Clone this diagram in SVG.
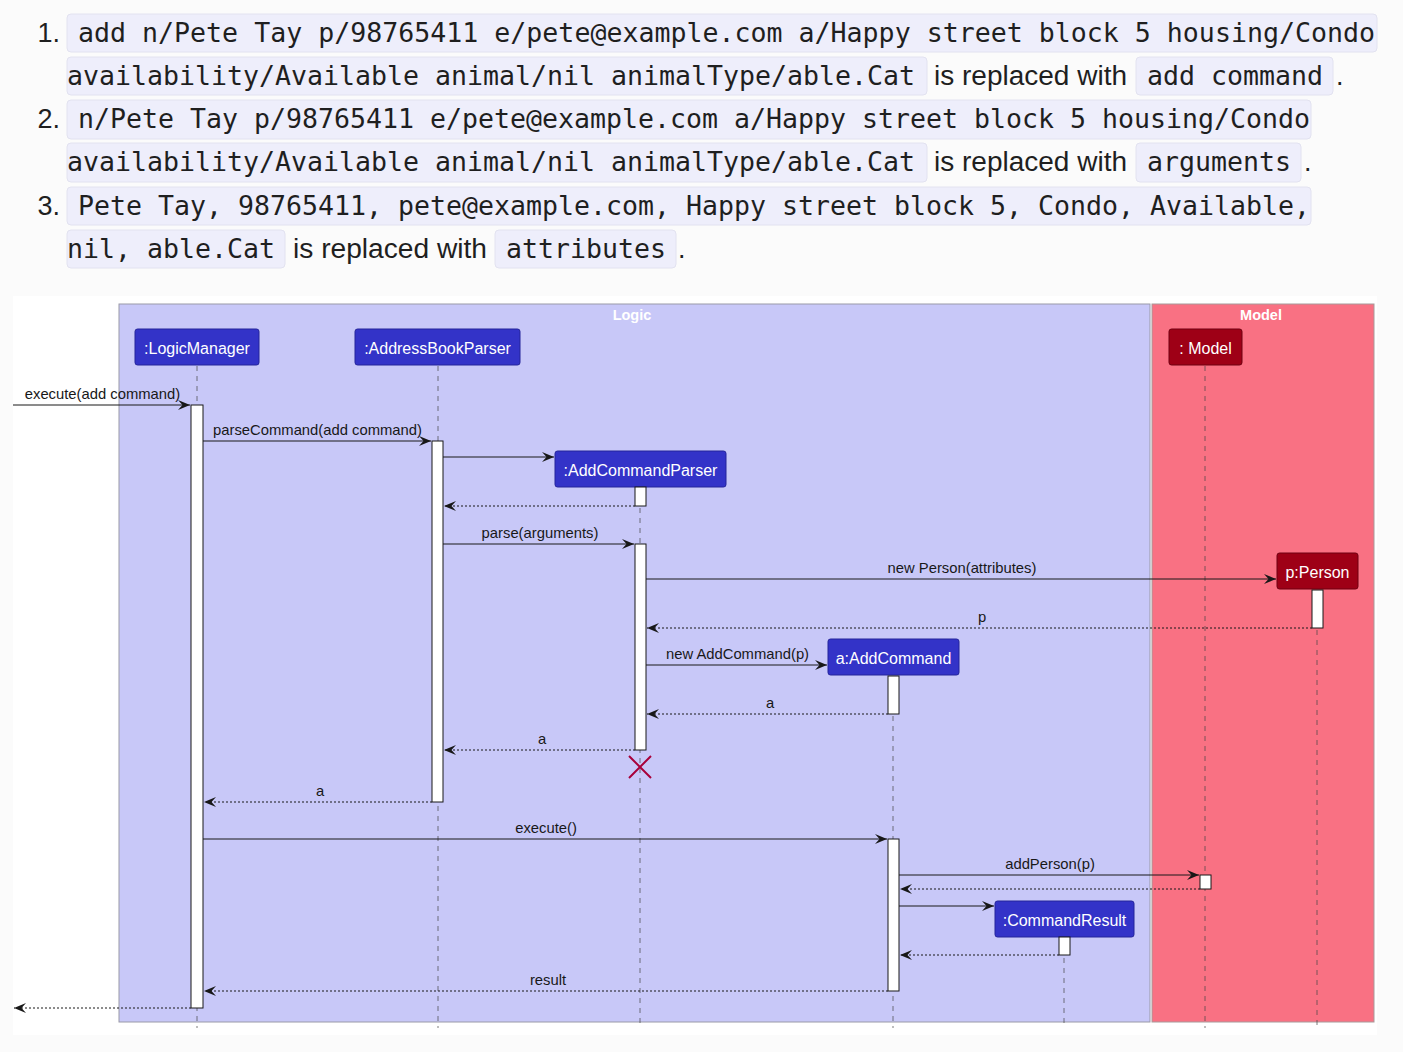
<svg xmlns="http://www.w3.org/2000/svg" width="1403" height="1052" viewBox="0 0 1403 1052">
<style>
.mono{font-family:"DejaVu Sans Mono",monospace;font-size:26.6px;fill:#1f1f1f}
.prose{font-family:"Liberation Sans",Arial,sans-serif;font-size:27px;fill:#1f1f1f}
.code{fill:#eeeefb;stroke:#e2e2f0;stroke-width:1}
.pbox{fill:#3333c8;stroke:#24249a;stroke-width:1}
.mbox{fill:#9e0016;stroke:#6e0010;stroke-width:1}
.pname{font-family:"Liberation Sans",Arial,sans-serif;font-size:16px;fill:#ffffff;text-anchor:middle}
.life{stroke:#444;stroke-opacity:0.7;stroke-width:1;stroke-dasharray:5,5}
.act{fill:#ffffff;stroke:#181818;stroke-width:1}
.msg{stroke:#181818;stroke-width:1;fill:none;marker-end:url(#ah)}
.ret{stroke:#181818;stroke-width:1;fill:none;stroke-dasharray:2,2;marker-end:url(#ah)}
.lbl{font-family:"Liberation Sans",Arial,sans-serif;font-size:14.8px;fill:#181818;text-anchor:middle}
.ftitle{font-family:"Liberation Sans",Arial,sans-serif;font-size:14.5px;font-weight:bold;fill:#ffffff;text-anchor:middle}
</style>
<defs>
<marker id="ah" viewBox="0 0 12 10" refX="12" refY="5" markerWidth="12" markerHeight="10" markerUnits="userSpaceOnUse" orient="auto">
<path d="M0,0 L12,5 L0,10 L4.5,5 Z" fill="#181818"/>
</marker>
</defs>
<rect x="0" y="0" width="1403" height="1052" fill="#fbfbfb"/>

<g id="text-block">
<text class="prose" x="60" y="42" text-anchor="end">1.</text>
<rect class="code" x="67" y="14" width="1310" height="38" rx="4"/>
<text class="mono" x="78" y="42" textLength="1297" lengthAdjust="spacingAndGlyphs">add n/Pete Tay p/98765411 e/pete@example.com a/Happy street block 5 housing/Condo</text>
<rect class="code" x="67" y="57" width="860" height="38" rx="4"/>
<text class="mono" x="67" y="85" textLength="848" lengthAdjust="spacingAndGlyphs">availability/Available animal/nil animalType/able.Cat</text>
<text class="prose" x="934" y="85" textLength="193" lengthAdjust="spacingAndGlyphs">is replaced with</text>
<rect class="code" x="1136" y="57" width="197" height="38" rx="4"/>
<text class="mono" x="1147" y="85" textLength="176" lengthAdjust="spacingAndGlyphs">add command</text>
<text class="prose" x="1336" y="85">.</text>

<text class="prose" x="60" y="128" text-anchor="end">2.</text>
<rect class="code" x="67" y="100" width="1244" height="39" rx="4"/>
<text class="mono" x="78" y="128" textLength="1232" lengthAdjust="spacingAndGlyphs">n/Pete Tay p/98765411 e/pete@example.com a/Happy street block 5 housing/Condo</text>
<rect class="code" x="67" y="143" width="860" height="39" rx="4"/>
<text class="mono" x="67" y="171" textLength="848" lengthAdjust="spacingAndGlyphs">availability/Available animal/nil animalType/able.Cat</text>
<text class="prose" x="934" y="171" textLength="193" lengthAdjust="spacingAndGlyphs">is replaced with</text>
<rect class="code" x="1136" y="143" width="165" height="39" rx="4"/>
<text class="mono" x="1147" y="171" textLength="144" lengthAdjust="spacingAndGlyphs">arguments</text>
<text class="prose" x="1304" y="171">.</text>

<text class="prose" x="60" y="215" text-anchor="end">3.</text>
<rect class="code" x="67" y="187" width="1244" height="38" rx="4"/>
<text class="mono" x="78" y="215" textLength="1232" lengthAdjust="spacingAndGlyphs">Pete Tay, 98765411, pete@example.com, Happy street block 5, Condo, Available,</text>
<rect class="code" x="67" y="230" width="218" height="38" rx="4"/>
<text class="mono" x="67" y="258" textLength="208" lengthAdjust="spacingAndGlyphs">nil, able.Cat</text>
<text class="prose" x="293" y="258" textLength="194" lengthAdjust="spacingAndGlyphs">is replaced with</text>
<rect class="code" x="495" y="230" width="181" height="38" rx="4"/>
<text class="mono" x="506" y="258" textLength="160" lengthAdjust="spacingAndGlyphs">attributes</text>
<text class="prose" x="678" y="258">.</text>
</g>

<rect x="13" y="296" width="1364" height="739" fill="#ffffff"/>

<g id="frame-logic">
<rect x="119" y="304" width="1031" height="718" fill="#c8c8f8" stroke="#9a9aa8" stroke-width="1"/>
<text class="ftitle" x="632" y="320">Logic</text>
</g>
<g id="frame-model">
<rect x="1152" y="304" width="222" height="718" fill="#f97183" stroke="#a89a9a" stroke-width="1"/>
<text class="ftitle" x="1261" y="320">Model</text>
</g>

<g id="lifelines">
<line class="life" x1="197" y1="366" x2="197" y2="1028"/>
<line class="life" x1="438" y1="366" x2="438" y2="1028"/>
<line class="life" x1="640" y1="488" x2="640" y2="1028"/>
<line class="life" x1="893" y1="676" x2="893" y2="1028"/>
<line class="life" x1="1064" y1="938" x2="1064" y2="1028"/>
<line class="life" x1="1205" y1="366" x2="1205" y2="1028"/>
<line class="life" x1="1317" y1="590" x2="1317" y2="1028"/>
</g>

<g id="LogicManager">
<rect class="pbox" x="135" y="329" width="124" height="36" rx="2.5"/>
<text class="pname" x="197" y="353.5">:LogicManager</text>
<rect class="act" x="191" y="405" width="12" height="603"/>
</g>
<g id="AddressBookParser">
<rect class="pbox" x="355" y="329" width="165" height="36" rx="2.5"/>
<text class="pname" x="437.5" y="353.5">:AddressBookParser</text>
<rect class="act" x="432" y="441" width="11" height="361"/>
</g>
<g id="AddCommandParser">
<rect class="pbox" x="555" y="451" width="171" height="36" rx="2.5"/>
<text class="pname" x="640.5" y="475.5">:AddCommandParser</text>
<rect class="act" x="635" y="487" width="11" height="19"/>
<rect class="act" x="635" y="544" width="11" height="206"/>
<path d="M629,756 L651,778 M651,756 L629,778" stroke="#a8003a" stroke-width="2" fill="none"/>
</g>
<g id="AddCommand">
<rect class="pbox" x="828" y="639" width="131" height="36" rx="2.5"/>
<text class="pname" x="893.5" y="663.5">a:AddCommand</text>
<rect class="act" x="888" y="676" width="11" height="38"/>
<rect class="act" x="888" y="839" width="11" height="152"/>
</g>
<g id="CommandResult">
<rect class="pbox" x="995" y="901" width="139" height="36" rx="2.5"/>
<text class="pname" x="1064.5" y="925.5">:CommandResult</text>
<rect class="act" x="1059" y="937" width="11" height="18"/>
</g>
<g id="Model">
<rect class="mbox" x="1169" y="329" width="73" height="36" rx="2.5"/>
<text class="pname" x="1205.5" y="353.5">: Model</text>
<rect class="act" x="1200" y="875" width="11" height="14"/>
</g>
<g id="Person">
<rect class="mbox" x="1277" y="553" width="81" height="36" rx="2.5"/>
<text class="pname" x="1317.5" y="577.5">p:Person</text>
<rect class="act" x="1312" y="590" width="11" height="38"/>
</g>

<g id="connectors">
<line class="msg" x1="13" y1="405" x2="190" y2="405"/>
<text class="lbl" x="102.5" y="399">execute(add command)</text>
<line class="msg" x1="203" y1="441" x2="431" y2="441"/>
<text class="lbl" x="317.5" y="435">parseCommand(add command)</text>
<line class="msg" x1="443" y1="457" x2="554" y2="457"/>
<line class="ret" x1="635" y1="506" x2="444" y2="506"/>
<line class="msg" x1="443" y1="544" x2="634" y2="544"/>
<text class="lbl" x="540" y="538">parse(arguments)</text>
<line class="msg" x1="646" y1="579" x2="1276" y2="579"/>
<text class="lbl" x="962" y="573">new Person(attributes)</text>
<line class="ret" x1="1312" y1="628" x2="647" y2="628"/>
<text class="lbl" x="982" y="622">p</text>
<line class="msg" x1="646" y1="665" x2="827" y2="665"/>
<text class="lbl" x="737.5" y="659">new AddCommand(p)</text>
<line class="ret" x1="888" y1="714" x2="647" y2="714"/>
<text class="lbl" x="770" y="708">a</text>
<line class="ret" x1="635" y1="750" x2="444" y2="750"/>
<text class="lbl" x="542" y="744">a</text>
<line class="ret" x1="432" y1="802" x2="204" y2="802"/>
<text class="lbl" x="320" y="796">a</text>
<line class="msg" x1="203" y1="839" x2="887" y2="839"/>
<text class="lbl" x="546" y="833">execute()</text>
<line class="msg" x1="899" y1="875" x2="1199" y2="875"/>
<text class="lbl" x="1050" y="869">addPerson(p)</text>
<line class="ret" x1="1200" y1="889" x2="900" y2="889"/>
<line class="msg" x1="899" y1="906" x2="994" y2="906"/>
<line class="ret" x1="1059" y1="955" x2="900" y2="955"/>
<line class="ret" x1="888" y1="991" x2="204" y2="991"/>
<text class="lbl" x="548" y="985">result</text>
<line class="ret" x1="191" y1="1008" x2="14" y2="1008"/>
</g>
</svg>
